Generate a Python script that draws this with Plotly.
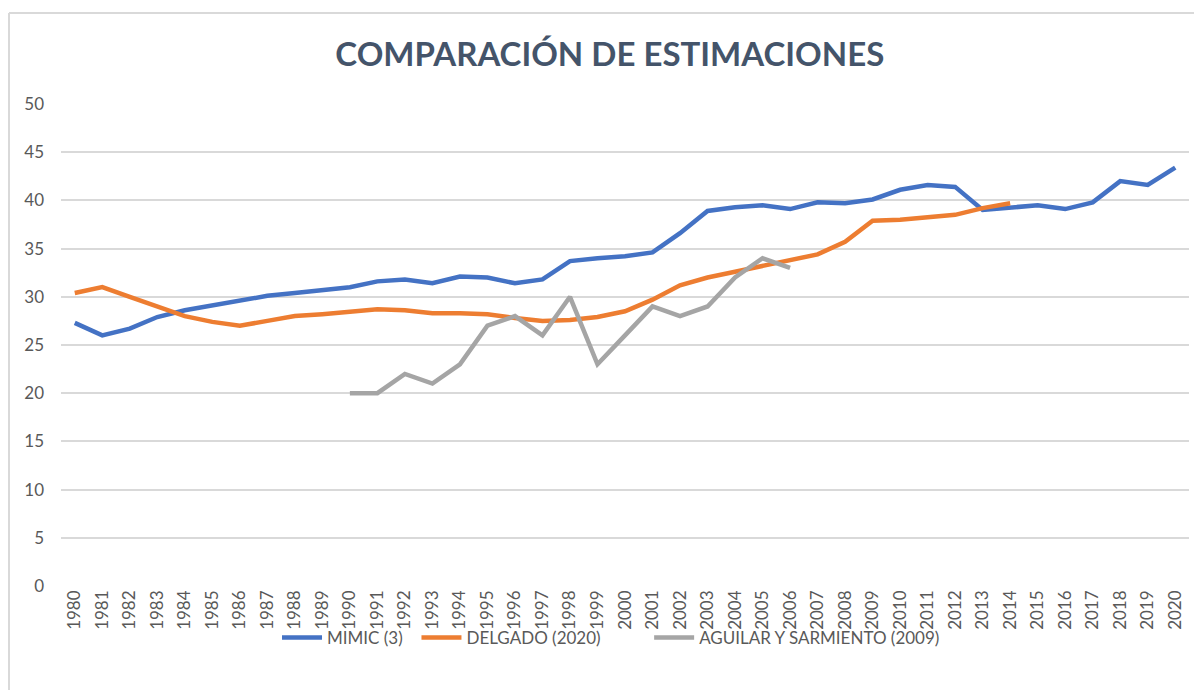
import plotly.graph_objects as go

# years on the category axis
years = [str(y) for y in range(1980, 2021)]

# MIMIC (3), 1980-2020
mimic = [27.3, 26.0, 26.7, 27.9, 28.6, 29.1, 29.6, 30.1, 30.4, 30.7,
         31.0, 31.6, 31.8, 31.4, 32.1, 32.0, 31.4, 31.8, 33.7, 34.0,
         34.2, 34.6, 36.6, 38.9, 39.3, 39.5, 39.1, 39.8, 39.7, 40.1,
         41.1, 41.6, 41.4, 39.0, 39.3, 39.5, 39.1, 39.8, 42.0, 41.6,
         43.4]

# DELGADO (2020), 1980-2014
delgado = [30.4, 31.0, 30.0, 29.0, 28.0, 27.4, 27.0, 27.5, 28.0, 28.2,
           28.4, 28.7, 28.6, 28.3, 28.3, 28.2, 27.8, 27.5, 27.6, 27.9,
           28.5, 29.7, 31.2, 32.0, 32.6, 33.2, 33.7, 34.4, 35.7, 37.9,
           38.0, 38.2, 38.5, 39.2, 39.7]

# AGUILAR Y SARMIENTO (2009), 1990-2006
aguilar = [20, 20, 22, 21, 23, 27, 28, 26, 30, 23,
           26, 29, 28, 29, 32, 34, 33]

names = ["MIMIC (3)", "DELGADO (2020)", "AGUILAR Y SARMIENTO (2009)"]
colors = ["#4472C4", "#ED7D31", "#A5A5A5"]

text_col = "#595959"
font = "Lato"
nb = "\u00a0"  # used to widen gaps between legend entries

fig = go.Figure()
fig.add_trace(go.Scatter(x=years, y=mimic, mode="lines", name=names[0] + nb * 2,
                         line=dict(color=colors[0], width=4.5)))
fig.add_trace(go.Scatter(x=years[:len(delgado)], y=delgado, mode="lines", name=names[1] + nb * 10,
                         line=dict(color=colors[1], width=4.5)))
fig.add_trace(go.Scatter(x=years[10:10 + len(aguilar)], y=aguilar, mode="lines", name=names[2],
                         line=dict(color=colors[2], width=4.5)))

# page body has an 8px margin, so the figure is shrunk and shifted accordingly
fig.update_layout(
    width=1194, height=682,
    margin=dict(l=53, r=13, t=96, b=104),
    paper_bgcolor="white", plot_bgcolor="white",
    font=dict(family=font, size=16, color=text_col),
    title=dict(text="<b>COMPARACIÓN DE ESTIMACIONES</b>", x=0.504, xanchor="center",
               y=1 - 46 / 682, yanchor="middle",
               font=dict(family=font, size=33, color="#44546A")),
    legend=dict(orientation="h", x=0.1915, xanchor="left", y=-0.108, yanchor="middle",
                font=dict(size=17, color=text_col), itemwidth=40,
                bgcolor="rgba(0,0,0,0)", traceorder="normal"),
)

fig.update_xaxes(type="category", range=[-0.5, 40.5], tickangle=-90,
                 showgrid=False, showline=False, ticks="", automargin=False,
                 tickfont=dict(size=17, color=text_col))
fig.update_yaxes(range=[0, 50], dtick=5, showgrid=True, gridcolor="#D9D9D9", gridwidth=1.5,
                 zeroline=False, showline=False, ticks="", ticklabelstandoff=16,
                 automargin=False, tickfont=dict(size=17, color=text_col))

# outer chart border (only top and left edge visible in the crop)
fig.add_shape(type="line", xref="paper", yref="paper",
              x0=-0.0461, x1=1.03, y0=1.1888, y1=1.1888,
              line=dict(color="#D9D9D9", width=2))
fig.add_shape(type="line", xref="paper", yref="paper",
              x0=-0.0461, x1=-0.0461, y0=1.1888, y1=-0.25,
              line=dict(color="#D9D9D9", width=2))

fig.write_html("out.html")
